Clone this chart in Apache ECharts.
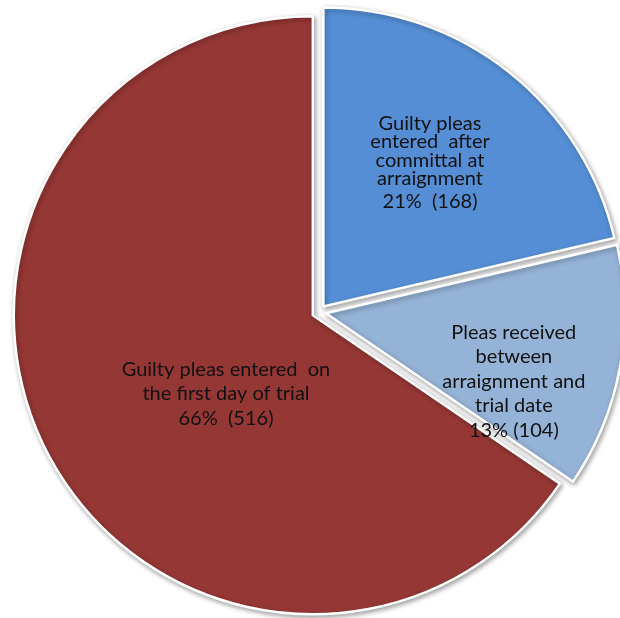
<!DOCTYPE html>
<html>
<head>
<meta charset="utf-8">
<script src="https://cdn.jsdelivr.net/npm/echarts@6/dist/echarts.min.js"></script>
<style>
  html, body { margin: 0; padding: 0; background: #ffffff; }
  #chart { width: 620px; height: 618px; }
</style>
</head>
<body>
<div id="chart"></div>
<script>
// Guilty pleas by stage at which they were entered
const categories = [
  'Guilty pleas entered after committal at arraignment',
  'Pleas received between arraignment and trial date',
  'Guilty pleas entered on the first day of trial'
];
const values = [168, 104, 516];
const percentLabels = ['21%', '13%', '66%'];
// Wrapped text of each slice label
const labelLines = [
  ['Guilty pleas', 'entered  after', 'committal at', 'arraignment'],
  ['Pleas received', 'between', 'arraignment and', 'trial date'],
  ['Guilty pleas entered  on', 'the first day of trial']
];
const colors = ['#558ED5', '#95B3D7', '#953735'];

// Visual layout (not data): spacing of the value line, line styles,
// and padding that nudges each label away from the slice midpoint
const valueGap = ['  ', ' ', '  '];
const lineStyle = ['tight', 'norm', 'norm'];
const lastStyle = ['tightLast', 'norm', 'norm'];
const labelPadding = [[0, 0, 44, 24], [80, 0, 0, 76], [14, 0, 0, 96]];

const chart = echarts.init(document.getElementById('chart'), null, { renderer: 'canvas' });

const font = 'Lato, "Open Sans", sans-serif';
const textColor = '#111111';
chart.setOption({
  animation: false,
  backgroundColor: '#ffffff',
  series: [{
    type: 'pie',
    center: [319, 312],
    radius: [0, 299],
    startAngle: 90,
    clockwise: true,
    selectedMode: 'multiple',
    selectedOffset: 7,
    emphasis: { disabled: true },
    itemStyle: {
      borderColor: '#ffffff',
      borderWidth: 2.5,
      shadowBlur: 5,
      shadowColor: 'rgba(0,0,0,0.35)',
      shadowOffsetX: 1.5,
      shadowOffsetY: 2
    },
    label: {
      show: true,
      position: 'inside',
      formatter: function (p) {
        const i = p.dataIndex;
        const ls = labelLines[i].map(function (t) { return '{' + lineStyle[i] + '|' + t + '}'; });
        ls.push('{' + lastStyle[i] + '|' + percentLabels[i] + valueGap[i] + '(' + values[i] + ')}');
        return ls.join('\n');
      },
      rich: {
        tight: { fontFamily: font, fontSize: 20, color: textColor, lineHeight: 18.5, align: 'center' },
        tightLast: { fontFamily: font, fontSize: 20, color: textColor, lineHeight: 27.5, align: 'center' },
        norm: { fontFamily: font, fontSize: 20, color: textColor, lineHeight: 24.5, align: 'center' }
      }
    },
    labelLine: { show: false },
    data: categories.map(function (name, i) {
      return {
        name: name,
        value: values[i],
        selected: true,
        itemStyle: { color: colors[i] },
        label: { padding: labelPadding[i] }
      };
    })
  }]
});
</script>
</body>
</html>
